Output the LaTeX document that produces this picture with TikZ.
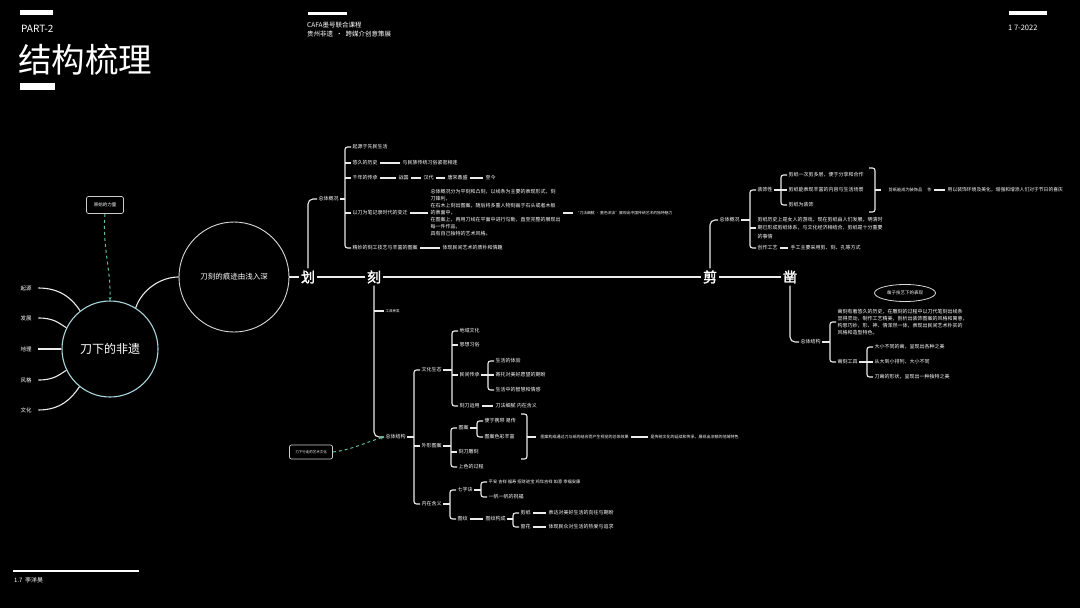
\documentclass[tikz,border=0pt]{standalone}
\usepackage{fontspec}
\setmainfont{Noto Sans CJK SC}[AutoFakeBold=2]
\usetikzlibrary{arrows.meta,shapes.geometric}
\definecolor{circ}{HTML}{A8D4DC}
\definecolor{tealx}{HTML}{5CC0A0}
\newcommand\xbr[2]{\draw[br] ([xshift=-1pt]#1.west) -- ++(-6,0) |- ([xshift=-1pt]#2.west);}
\newcommand\xst[1]{\draw[ln] ([xshift=-1pt]#1.west) -- ++(-6,0);}
\newcommand\xlk[2]{\draw[ln] ([xshift=1pt]#1.east) -- ([xshift=-7pt]#2.west |- #1.east);}
\newcommand\xds[2]{\draw[ln] ([xshift=2pt]#1.east) -- ([xshift=-2pt]#2.west |- #1.east);}
\begin{document}
\begin{tikzpicture}[x=1pt,y=-1pt,
  t/.style={text=white, font=\fontsize{5}{6}\selectfont, inner sep=0.5pt, anchor=west},
  ts/.style={t, font=\fontsize{4}{5}\selectfont},
  ln/.style={draw=white!92!black, line width=1.1pt},
  br/.style={ln, rounded corners=2.5pt},
  trunk/.style={ln, rounded corners=5pt},
  big/.style={text=white, font=\fontsize{14}{14}\selectfont\bfseries, inner sep=2pt},
  tdash/.style={draw=tealx, dashed, line width=1pt, -{Stealth[length=3.5pt,width=3pt]}},
  lbl/.style={text=white, font=\fontsize{5.5}{6}\selectfont, inner sep=0.5pt, anchor=west}]
\fill[black] (0,0) rectangle (1080,608);
\useasboundingbox (0,0) rectangle (1080,608);
% header
\fill[white] (20,10) rectangle (53,15);
\fill[white] (20,83) rectangle (55,90);
\fill[white] (308,12) rectangle (347,15);
\fill[white] (1009,11) rectangle (1047,15);
\fill[white] (13,570) rectangle (139,572);
\node[anchor=west, text=white, font=\fontsize{10}{10}\selectfont, inner sep=0] (part) at (21,29) {PART-2};
\node[anchor=west, text=white, font=\fontsize{33.5}{34}\selectfont, inner sep=0] (title) at (18,60) {结构梳理};
\node[anchor=north west, text=white, font=\fontsize{6.5}{9}\selectfont, align=left, inner sep=0] (course) at (307,22) {CAFA墨号联合课程\\贵州非遗\ \ ·\ \ 跨媒介创意策展};
\node[anchor=west, text=white, font=\fontsize{7.5}{8}\selectfont, inner sep=0] (date) at (1008,28) {1 7-2022};
\node[anchor=west, text=white, font=\fontsize{6}{7}\selectfont, inner sep=0] (author) at (14,580) {1.7\ \ 李洋昊};

% left part
\node[circle, draw=circ, line width=1.1pt, minimum size=96pt, inner sep=0, text=white, font=\fontsize{12}{12}\selectfont] (main) at (110,349) {刀下的非遗};
\node[circle, draw=white!85!black, line width=0.9pt, minimum size=110pt, inner sep=0, text=white, font=\fontsize{7.5}{8}\selectfont] (bigc) at (234,277) {刀刻的痕迹由浅入深};
\node[lbl] (lab1) at (20,288) {起源};
\node[lbl] (lab2) at (20,318) {发展};
\node[lbl] (lab3) at (20,349) {地理};
\node[lbl] (lab4) at (20,380) {风格};
\node[lbl] (lab5) at (20,410) {文化};
\draw[ln] ([xshift=6pt]lab1.east) .. controls +(22,0) and +(-8,-12) .. (main.128);
\draw[ln] ([xshift=6pt]lab2.east) .. controls +(15,0) and +(-8,-5) .. (main.154);
\draw[ln] ([xshift=6pt]lab3.east) -- (main.180);
\draw[ln] ([xshift=6pt]lab4.east) .. controls +(15,0) and +(-8,5) .. (main.206);
\draw[ln] ([xshift=6pt]lab5.east) .. controls +(22,0) and +(-8,12) .. (main.231);
\node[draw=white!80!black, rounded corners=2pt, line width=0.7pt, minimum width=37pt, minimum height=17pt, inner sep=1pt, text=white, font=\fontsize{4.5}{5}\selectfont] (box1) at (105,205) {原始的力量};
\draw[tdash] (box1.south) .. controls +(-3,30) and +(1,-30) .. (main.north);
\draw[ln] (main.58) .. controls +(6,-18) and +(-18,0) .. (bigc.west);

% main line
\node[big] (hua) at (308,277) {划};
\node[big] (ke) at (374,277) {刻};
\node[big] (jian) at (710,277) {剪};
\node[big] (zao) at (790,277) {凿};
\draw[ln] (bigc.east) -- (hua.west);
\draw[ln] (hua.east) -- (ke.west);
\draw[ln] (ke.east) -- (jian.west);
\draw[ln] (jian.east) -- (zao.west);

% upper branch of hua
\node[t] (u0) at (318,199) {总体概况};
\node[t] (u1) at (352,147) {起源于先民生活};
\node[t] (u2) at (352,163) {悠久的历史};
\node[t] (u2b) at (402,163) {与民族传统习俗紧密相连};
\node[t] (u3) at (352,178) {千年的传承};
\node[t] (u3a) at (398,178) {战国};
\node[t] (u3b) at (423,178) {汉代};
\node[t] (u3c) at (447,178) {唐宋鼎盛};
\node[t] (u3d) at (485,178) {至今};
\node[t] (u4) at (352,213) {以刀为笔记录时代的变迁};
\node[t, align=left, font=\fontsize{5}{7}\selectfont] (u4p) at (430,213) {总体概况分为平刻和凸刻，以线条为主要的表现形式，刻\\刀锋利，\\在石木上刻出图案，随后将多重人物刻画于石头或者木板\\的表面中，\\在图案上，再用刀线在平面中进行勾勒，直至完整的展现出\\每一件作品，\\具有自己独特的艺术风格。};
\node[t, font=\fontsize{3.8}{4}\selectfont] (u4q) at (575,213) {“刀法细腻 · 墨色浓淡”展现出中国传统艺术的独特魅力};
\node[t] (u5) at (352,248) {精妙的刻工技艺与丰富的图案};
\node[t] (u5b) at (442,248) {体现民间艺术的质朴和情趣};
\draw[trunk] (hua.north) |- ([xshift=-1pt]u0.west);
\xlk{u0}{u1}
\xbr{u1}{u5}
\xst{u2}\xst{u3}\xst{u4}
\xds{u2}{u2b}\xds{u3}{u3a}\xds{u3a}{u3b}\xds{u3b}{u3c}\xds{u3c}{u3d}
\xds{u4}{u4p}\xds{u4p}{u4q}\xds{u5}{u5b}

% lower branch of ke
\node[t, font=\fontsize{3.5}{4}\selectfont] (l1) at (385,311) {工具种类};
\node[t] (l0) at (385,437) {总体结构};
\draw[trunk] (ke.south) |- ([xshift=-1pt]l0.west);
\draw[ln] (ke.south |- l1.west) -- ([xshift=-1pt]l1.west);
\node[t] (m1) at (421,370) {文化生态};
\node[t] (m2) at (421,446) {外形图案};
\node[t] (m3) at (421,504) {内在含义};
\xlk{l0}{m1}\xbr{m1}{m3}\xst{m2}
\node[t] (n1) at (459,331) {地域文化};
\node[t] (n2) at (459,345) {思想习俗};
\node[t] (n3) at (459,375) {民间传承};
\node[t] (n4) at (459,406) {刻刀运用};
\xlk{m1}{n1}\xbr{n1}{n4}\xst{n2}\xst{n3}
\node[t] (o1) at (495,361) {生活的体验};
\node[t] (o2) at (495,375) {寄托对美好愿望的期盼};
\node[t] (o3) at (495,390) {生活中的智慧和情感};
\node[t] (o4) at (495,406) {刀法细腻 内在含义};
\xlk{n3}{o1}\xbr{o1}{o3}\xst{o2}\xds{n4}{o4}
\node[t] (p1) at (458,428) {图案};
\node[t] (p2) at (458,452) {刻刀雕刻};
\node[t] (p3) at (458,467) {上色的过程};
\xlk{m2}{p1}\xbr{p1}{p3}\xst{p2}
\node[t] (q1) at (484,421) {便于携带 易传};
\node[t] (q2) at (484,437) {图案色彩丰富};
\xlk{p1}{q1}\xbr{q1}{q2}
\draw[br] (521,414) -- (527,414) -- (527,459) -- (521,459);
\node[t, font=\fontsize{4}{5}\selectfont] (r1) at (540,437) {图案构成通过刀与纸的结合而产生视觉的总体效果};
\node[t, font=\fontsize{4}{5}\selectfont] (r2) at (650,437) {是传统文化的延续和传承，展现出浓郁的地域特色};
\draw[ln] (527,437) -- ([xshift=-4pt]r1.west);
\xds{r1}{r2}
\node[t] (s1) at (457,490) {七字诀};
\node[t] (s2) at (457,519) {图纹};
\xlk{m3}{s1}\xbr{s1}{s2}
\node[t, font=\fontsize{4.3}{5}\selectfont] (t1) at (488,482) {平安\ 吉祥\ 福寿\ 招财进宝\ 鸡年吉祥\ 如意\ 幸福安康};
\node[t] (t2) at (488,497) {一帆一帆的祝福};
\xlk{s1}{t1}\xbr{t1}{t2}
\node[t] (s3) at (485,519) {图纹构成};
\xds{s2}{s3}
\node[t] (g1) at (520,513) {剪纸};
\node[t] (g2) at (520,527) {窗花};
\xlk{s3}{g1}\xbr{g1}{g2}
\node[t] (h1) at (548,513) {表达对美好生活的向往与期盼};
\node[t] (h2) at (548,527) {体现民众对生活的热爱与追求};
\xds{g1}{h1}\xds{g2}{h2}
\node[draw=white!80!black, rounded corners=2pt, line width=0.7pt, minimum width=43pt, minimum height=14pt, inner sep=1pt, text=white, font=\fontsize{3.5}{4}\selectfont] (box2) at (311,452) {刀下行走的艺术文化};
\draw[tdash] (box2.east) .. controls +(18,-2) and +(-20,6) .. ([xshift=-1pt]l0.west);

% jian branch
\node[t] (w0) at (719,220) {总体概况};
\draw[trunk] (jian.north) |- ([xshift=-1pt]w0.west);
\node[t] (w1) at (757,190) {装饰性};
\node[t, align=left, font=\fontsize{5}{8.5}\selectfont] (w2) at (757,228) {剪纸历史上是女人的游戏，现在剪纸由人们发展，明清时\\期已形成剪纸体系，与文化经济相结合，剪纸是十分重要\\的事情};
\node[t] (w3) at (757,248) {创作工艺};
\xlk{w0}{w1}\xbr{w1}{w3}\xst{w2}
\node[t] (x1) at (788,175) {剪纸一次剪多层，便于分享和合作};
\node[t] (x2) at (788,190) {剪纸能表现丰富的内容与生活场景};
\node[t] (x3) at (788,205) {剪纸为装饰};
\xlk{w1}{x1}\xbr{x1}{x3}\xst{x2}
\draw[br] (869,168) -- (875,168) -- (875,212) -- (869,212);
\node[t, font=\fontsize{4.2}{5}\selectfont] (y1) at (888,190) {剪纸能成为装饰品\hspace{5pt}作};
\draw[ln] (875,190) -- (881,190);
\node[t, font=\fontsize{4.8}{5}\selectfont] (y2) at (947,190) {用以装饰环境及美化，增强和增添人们对于节日的喜庆};
\xds{y1}{y2}
\node[t] (z1) at (790,248) {手工主要采用剪、刻、孔等方式};
\xds{w3}{z1}

% zao branch
\node[t] (a0) at (800,342) {总体结构};
\draw[trunk] (zao.south) |- ([xshift=-1pt]a0.west);
\node[t, align=left, font=\fontsize{5}{7}\selectfont] (a1) at (837,322) {凿刻有着悠久的历史，在雕刻的过程中以刀代笔刻出线条\\显得灵动，制作工艺精美，剖析出装饰图案的风格和寓意，\\构思巧妙，形、神、情浑然一体，表现出民间艺术朴实的\\风格和造型特色。};
\node[t] (a2) at (837,362) {凿刻工具};
\xlk{a0}{a1}\xbr{a1}{a2}
\node[t] (b1) at (874,347) {大小不同的凿，呈现出各种之美};
\node[t] (b2) at (874,362) {从大到小排列，大小不同};
\node[t] (b3) at (874,377) {刀凿的形状，呈现出一种独特之美};
\xlk{a2}{b1}\xbr{b1}{b3}\xst{b2}
\node[ellipse, draw=white!85!black, line width=0.8pt, minimum width=61pt, minimum height=17pt, inner sep=0, text=white, font=\fontsize{4.5}{5}\selectfont] (e1) at (905,293) {凿子技艺下的表现};
\end{tikzpicture}
\end{document}
